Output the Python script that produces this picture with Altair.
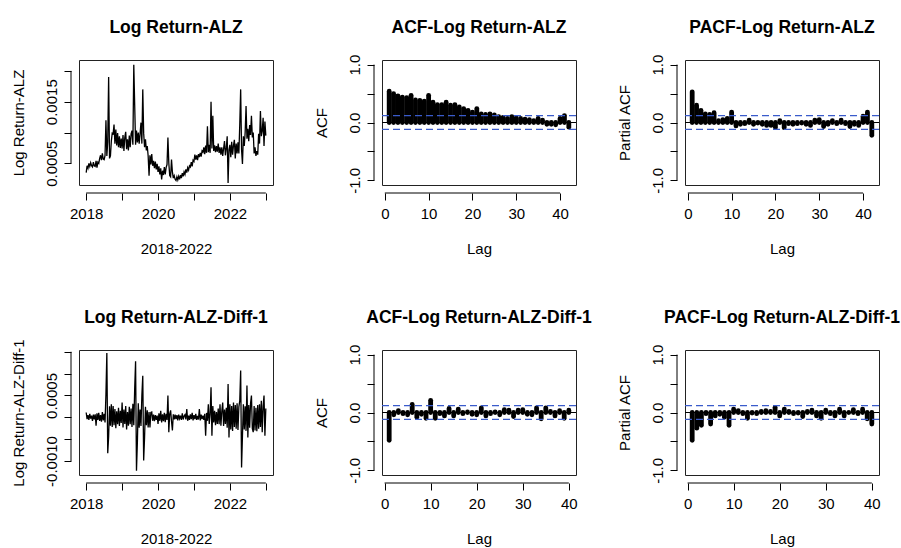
import json
import altair as alt
import numpy as np
import pandas as pd

FONT = "Liberation Sans"

# ---------------- data ----------------
# weekly-like time index 2018.0 .. 2023.0 (201 observations)
ts_time = [2018 + i / 40 for i in range(201)]

# Log return of ALZ, in units of 1e-4
log_return_e4 = [
    3.5, 4.6, 4.2, 5.0, 4.5, 5.1, 4.6, 4.4, 5.2, 4.6,
    4.5, 5.4, 4.3, 5.2, 5.0, 5.8, 6.3, 5.5, 6.6, 5.7,
    5.6, 6.3, 12.0, 6.2, 8.5, 19.0, 5.8, 6.2, 8.6, 9.9,
    9.8, 11.3, 8.2, 10.5, 7.9, 9.9, 7.6, 9.4, 7.5, 9.0,
    7.4, 9.6, 7.0, 9.2, 10.1, 7.3, 8.9, 7.1, 9.5, 7.6,
    9.8, 10.3, 8.0, 21.0, 14.5, 8.0, 10.3, 8.4, 10.0, 8.2,
    9.8, 11.6, 8.2, 17.0, 9.9, 7.6, 8.9, 7.1, 7.8, 6.2,
    3.0, 6.3, 4.8, 6.5, 4.6, 5.4, 4.2, 5.3, 4.0, 4.9,
    3.6, 4.5, 3.2, 4.2, 2.4, 3.8, 3.1, 4.4, 3.2, 4.3,
    4.8, 9.2, 5.0, 3.0, 2.8, 5.6, 3.6, 2.6, 3.0, 2.4,
    2.2, 2.8, 2.3, 2.9, 2.4, 3.1, 2.6, 3.4, 2.9, 3.6,
    3.2, 4.0, 3.5, 4.3, 3.9, 4.6, 4.4, 5.2, 4.5, 5.5,
    5.3, 6.4, 5.6, 6.3, 5.5, 6.5, 6.0, 6.7, 6.1, 7.0,
    6.8, 7.6, 6.5, 7.9, 6.7, 11.0, 6.8, 8.0, 6.7, 15.0,
    7.4, 12.7, 7.0, 7.9, 6.8, 7.8, 6.9, 8.2, 6.7, 7.6,
    6.4, 7.6, 6.2, 7.4, 8.6, 6.3, 7.5, 9.4, 1.8, 7.2,
    8.0, 6.0, 8.5, 6.4, 7.9, 8.8, 5.8, 8.2, 6.6, 8.4,
    6.6, 11.3, 17.0, 7.2, 4.9, 9.4, 7.8, 10.0, 14.3, 9.0,
    10.6, 8.6, 11.2, 9.6, 12.7, 9.2, 10.0, 6.6, 7.6, 6.2,
    7.0, 6.4, 9.8, 8.2, 13.5, 9.4, 10.2, 12.4, 7.8, 11.8, 9.5,
]

# First difference of the log return, in units of 1e-4
diff1_e4 = [
    1.1, -0.4, 0.5, -0.6, 0.8, -0.3, 0.4, -0.8, 0.6, -0.5,
    0.7, -1.9, 0.9, -0.6, 1.0, -0.8, 0.5, -1.0, 1.2, -0.7,
    0.8, -1.2, 5.3, 14.7, -8.2, -4.4, 2.5, -1.9, 3.0, -2.2,
    2.6, -1.8, 1.9, -2.5, 1.4, -1.6, 2.2, -2.0, 1.5, -1.3,
    3.4, -2.3, 1.8, -1.5, 2.6, -2.8, 1.2, -1.9, 2.4, -1.6,
    2.0, -2.2, 3.1, -1.8, 6.5, 12.8, -12.2, -5.7, 3.2, -2.4,
    1.8, -2.0, 5.0, 9.5, -9.9, -4.6, 2.4, -1.8, 1.6, -2.3,
    1.2, -2.3, 1.1, 1.2, -0.8, 0.6, -0.9, 0.5, -0.6, 0.4,
    -1.5, 0.9, -0.8, 1.5, -1.2, 0.7, -0.9, 1.0, -1.1, 0.8,
    -0.6, 5.0, -3.4, 0.8, 1.6, -0.9, -3.0, 0.7, -0.5, 0.6,
    -0.4, 0.5, -0.7, 0.6, -0.3, 0.4, -0.6, 0.9, -0.5, 0.3,
    0.6, -0.5, 1.9, -0.8, 0.4, -0.6, 0.7, -0.4, 1.0, -0.7,
    0.5, -0.4, 0.8, -0.6, 0.3, -0.5, 1.9, -0.7, 0.6, -0.4,
    0.4, -0.6, 0.8, -4.2, 1.0, -0.8, 3.0, -1.5, 0.7, 6.9,
    -4.2, 2.6, -1.2, 1.5, -1.8, 1.2, -1.5, 2.0, -1.6, 3.0,
    -1.9, 1.4, 3.4, -2.0, 1.8, -1.5, 2.2, -2.4, 7.6, -4.6,
    3.0, -2.8, 2.6, -3.1, 3.4, -2.2, 2.8, -2.6, 3.2, -2.9,
    2.4, 3.8, 10.7, -11.5, -4.2, 3.0, -2.8, 2.5, -3.1, 7.3,
    -4.6, 2.8, -2.4, 3.2, 5.0, -2.6, -3.4, 2.6, -3.0, 2.2,
    -3.2, 2.8, -2.6, 3.0, -2.2, 3.8, -3.4, 2.6, 5.0, -4.2, 2.0,
]

lags_42 = list(range(1, 43))
lags_40 = list(range(1, 41))

acf_alz = [0.54, 0.50, 0.46, 0.44, 0.43, 0.47, 0.39, 0.38, 0.37, 0.47,
           0.35, 0.31, 0.31, 0.35, 0.30, 0.31, 0.27, 0.24, 0.21, 0.18,
           0.24, 0.15, 0.14, 0.15, 0.13, 0.10, 0.09, 0.07, 0.10, 0.08,
           0.07, 0.06, 0.05, 0.03, 0.07, 0.04, -0.03, -0.03, -0.04, 0.07,
           0.12, -0.08]
pacf_alz = [0.53, 0.30, 0.21, 0.15, 0.14, 0.17, 0.03, 0.05, 0.07, 0.18,
            -0.06, -0.03, -0.02, 0.04, -0.03, -0.01, -0.03, -0.05, -0.05, -0.09,
            0.03, -0.09, -0.02, -0.03, -0.02, -0.01, -0.03, -0.05, 0.04, 0.05,
            -0.07, -0.03, 0.03, -0.02, 0.04, -0.02, -0.07, -0.03, -0.05, 0.11,
            0.18, -0.22]
acf_diff = [-0.48, -0.04, 0.03, -0.02, -0.04, 0.14, -0.08, -0.03, -0.10, 0.21,
            -0.10, -0.02, -0.06, 0.07, -0.06, 0.06, -0.02, 0.01, -0.03, -0.04,
            0.08, -0.06, -0.02, 0.01, -0.04, 0.05, 0.04, -0.07, 0.04, 0.05,
            -0.03, -0.04, 0.08, -0.11, 0.08, 0.02, -0.06, 0.03, -0.10, 0.04]
pacf_diff = [-0.48, -0.27, -0.22, -0.02, -0.20, -0.06, -0.03, -0.08, -0.22, 0.06,
             0.03, -0.02, -0.10, -0.01, -0.02, 0.02, 0.03, 0.02, 0.09, -0.06,
             0.06, 0.02, -0.02, -0.01, -0.07, 0.02, 0.04, -0.06, -0.10, 0.04,
             -0.02, -0.06, 0.06, -0.06, 0.00, 0.05, -0.02, 0.06, -0.11, -0.20]
ci_bound = 0.12

# tick values and labels
ts_x_ticks = [2018, 2019, 2020, 2021, 2022, 2023]
ts_x_labels = ["2018", "", "2020", "", "2022", ""]
lr_y_ticks = [0.0005, 0.001, 0.0015, 0.002]
lr_y_labels = ["0.0005", "", "0.0015", ""]
d1_y_ticks = [-0.001, -0.0005, 0.0, 0.0005, 0.001, 0.0015]
d1_y_labels = ["-0.0010", "", "", "0.0005", "", ""]
acf_y_ticks = [-1.0, -0.5, 0.0, 0.5, 1.0]
acf_y_labels = ["-1.0", "", "0.0", "", "1.0"]
lag_ticks = [0, 10, 20, 30, 40]
lag_labels = ["0", "10", "20", "30", "40"]

# ---------------- layout / style ----------------
W, H = 194, 125
AX_OFF = 8
BLUE = "#3A5BCB"


def lab_expr(ticks, labels):
    return f"{json.dumps(labels)}[indexof({json.dumps(ticks)}, datum.value)]"


def y_axis(ticks, labels, title):
    return alt.Axis(values=ticks, labelExpr=lab_expr(ticks, labels), title=title,
                    offset=AX_OFF, tickSize=7, domain=False, grid=False,
                    labelAngle=270, labelAlign="center", labelBaseline="alphabetic",
                    labelPadding=8, labelOverlap=False,
                    titleX=-48, titleY=H / 2, titleAngle=270, titleAlign="center",
                    titleBaseline="alphabetic")


def x_axis(ticks, labels, title):
    return alt.Axis(values=ticks, labelExpr=lab_expr(ticks, labels), title=title,
                    offset=AX_OFF, tickSize=7, domain=False, grid=False,
                    labelAngle=0, labelAlign="center", labelBaseline="alphabetic",
                    labelPadding=18, labelOverlap=False,
                    titleX=W / 2, titleY=60, titleAlign="center",
                    titleBaseline="alphabetic")


def title_layer(text):
    return alt.Chart(pd.DataFrame({"title": [text]})).mark_text(
        font=FONT, fontSize=17.5, fontWeight="bold", color="black",
        align="center", baseline="alphabetic"
    ).encode(text="title:N", x=alt.value(W / 2), y=alt.value(-27))


def axis_lines(xs, ys, xax, yax, xticks, yticks):
    yl = alt.Chart(pd.DataFrame({"a": [yticks[0]], "b": [yticks[-1]]})).mark_rule(
        color="black", strokeWidth=1).encode(
        x=alt.value(-AX_OFF), y=alt.Y("a:Q", scale=ys, axis=yax), y2="b:Q")
    xl = alt.Chart(pd.DataFrame({"a": [xticks[0]], "b": [xticks[-1]]})).mark_rule(
        color="black", strokeWidth=1).encode(
        y=alt.value(H + AX_OFF), x=alt.X("a:Q", scale=xs, axis=xax), x2="b:Q")
    return [yl, xl]


def ts_panel(title, ytitle, values_e4, ydomain, yticks, ylabels):
    df = pd.DataFrame({"t": ts_time, "v": np.array(values_e4) * 1e-4})
    xs = alt.Scale(domain=[2017.8, 2023.2], nice=False, zero=False)
    ys = alt.Scale(domain=ydomain, nice=False, zero=False)
    xax = x_axis(ts_x_ticks, ts_x_labels, "2018-2022")
    yax = y_axis(yticks, ylabels, ytitle)
    line = alt.Chart(df).mark_line(color="black", strokeWidth=1.3).encode(
        x=alt.X("t:Q", scale=xs, axis=xax),
        y=alt.Y("v:Q", scale=ys, axis=yax),
    )
    return alt.layer(line, *axis_lines(xs, ys, xax, yax, ts_x_ticks, yticks),
                     title_layer(title)).properties(width=W, height=H)


def acf_panel(title, ytitle, lags, vals, xdomain):
    df = pd.DataFrame({"lag": lags, "acf": vals, "base": [0.0] * len(lags)})
    xs = alt.Scale(domain=xdomain, nice=False, zero=False)
    ys = alt.Scale(domain=[-1.08, 1.08], nice=False, zero=False)
    xax = x_axis(lag_ticks, lag_labels, "Lag")
    yax = y_axis(acf_y_ticks, acf_y_labels, ytitle)
    bars = alt.Chart(df).mark_rule(color="black", strokeWidth=4.8, strokeCap="round").encode(
        x=alt.X("lag:Q", scale=xs, axis=xax),
        y=alt.Y("acf:Q", scale=ys, axis=yax),
        y2="base:Q",
    )
    zero = alt.Chart(pd.DataFrame({"z": [0.0]})).mark_rule(color="black", strokeWidth=1).encode(
        y=alt.Y("z:Q", scale=ys, axis=yax), x=alt.value(0), x2=alt.value(W))
    ci = alt.Chart(pd.DataFrame({"ci": [ci_bound, -ci_bound]})).mark_rule(
        color=BLUE, strokeWidth=1.3, strokeDash=[7, 4]).encode(
        y=alt.Y("ci:Q", scale=ys, axis=yax), x=alt.value(0), x2=alt.value(W))
    return alt.layer(bars, zero, ci, *axis_lines(xs, ys, xax, yax, lag_ticks, acf_y_ticks),
                     title_layer(title)).properties(width=W, height=H)


p1 = ts_panel("Log Return-ALZ", "Log Return-ALZ", log_return_e4,
              [0.000148, 0.002177], lr_y_ticks, lr_y_labels)
p2 = acf_panel("ACF-Log Return-ALZ", "ACF", lags_42, acf_alz, [-0.64, 43.64])
p3 = acf_panel("PACF-Log Return-ALZ", "Partial ACF", lags_42, pacf_alz, [-0.64, 43.64])
p4 = ts_panel("Log Return-ALZ-Diff-1", "Log Return-ALZ-Diff-1", diff1_e4,
              [-0.00132, 0.00154], d1_y_ticks, d1_y_labels)
p5 = acf_panel("ACF-Log Return-ALZ-Diff-1", "ACF", lags_40, acf_diff, [-0.56, 41.56])
p6 = acf_panel("PACF-Log Return-ALZ-Diff-1", "Partial ACF", lags_40, pacf_diff, [-0.56, 41.56])

chart = alt.concat(
    p1, p2, p3, p4, p5, p6, columns=3,
    spacing={"row": 165, "column": 109}, bounds="flush",
).properties(
    padding={"left": 10, "top": 18, "right": 0, "bottom": 0},
    background="white",
).configure_view(
    stroke="#222", strokeWidth=1,
).configure_axis(
    labelFont=FONT, titleFont=FONT, labelFontSize=15, titleFontSize=15,
    titleFontWeight="normal", labelColor="black", titleColor="black",
    tickColor="black", tickWidth=1,
)

chart.save("out.html", embed_options={"renderer": "svg", "actions": False})
